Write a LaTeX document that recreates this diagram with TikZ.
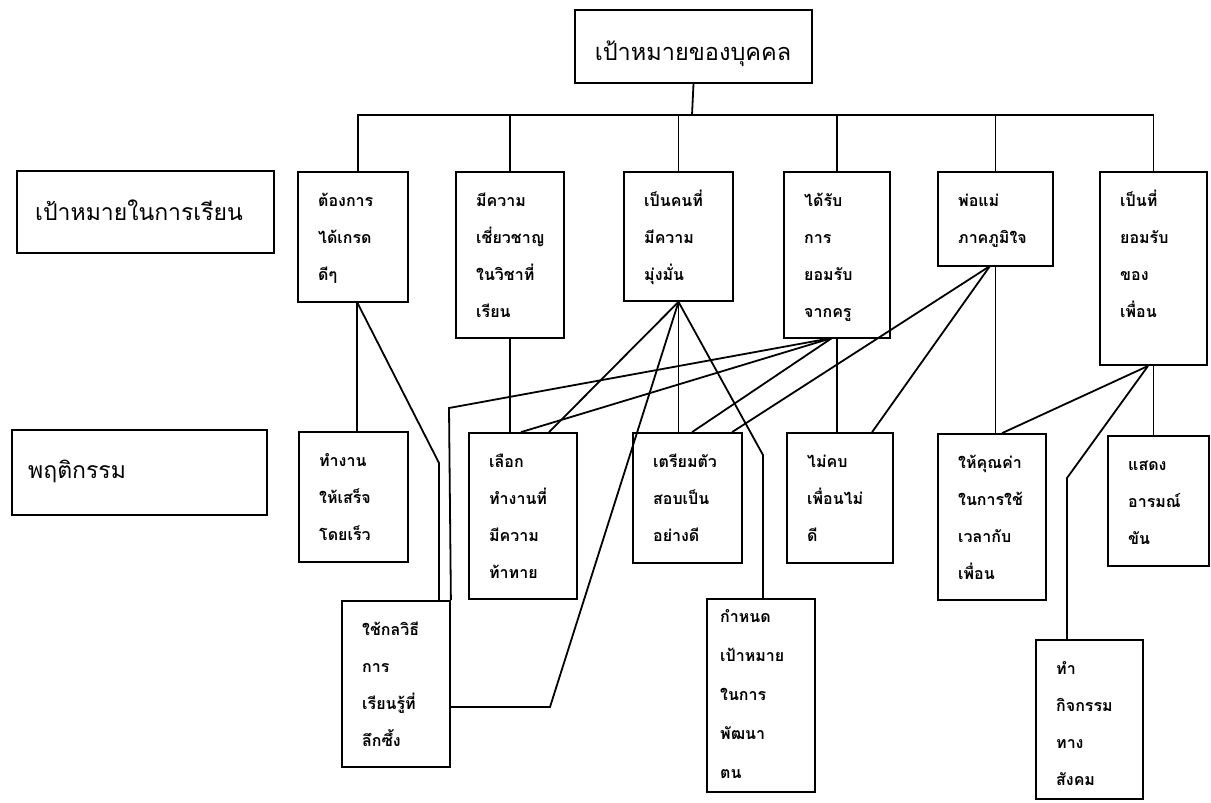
\documentclass[tikz,border=0pt]{standalone}
\usepackage{fontspec}
\newfontfamily\thaifont[Script=Thai]{Loma}
\usetikzlibrary{calc}
\newcommand{\mybox}[6]{%
  \node[bx, minimum width=#4, minimum height=#5] (#1) at (#2+#4/2, #3+#5/2) {};
  \node[txt] (#1t) at (#2+20, #3+21) {\parbox[t]{100pt}{\raggedright #6}};
}
\begin{document}
\begin{tikzpicture}[x=1pt,y=-1pt,
  bx/.style={draw, line width=1.8pt, rectangle, inner sep=0pt},
  txt/.style={anchor=north west, inner sep=0pt, text height=13pt,
    font=\thaifont\bfseries\fontsize{16}{37}\selectfont},
  ln/.style={line width=1.8pt}]
\path[use as bounding box, fill=white] (0,0) rectangle (1211,803);

% top box
\node[bx, minimum width=237, minimum height=73] (top) at (575+237/2, 10+73/2) {};
\node[anchor=base, inner sep=0pt, font=\thaifont\fontsize{23.5}{28}\selectfont] (topt) at (693,60) {เป้าหมายของบุคคล};

% side labels
\node[bx, minimum width=257, minimum height=82] (lg) at (17+257/2, 171+82/2) {};
\node[anchor=base west, inner sep=0pt, font=\thaifont\fontsize{23}{26}\selectfont] (lgt) at (35,220) {เป้าหมายในการเรียน};
\node[bx, minimum width=255, minimum height=85] (lb) at (12+255/2, 430+85/2) {};
\node[anchor=base west, inner sep=0pt, font=\thaifont\fontsize{23}{26}\selectfont] (lbt) at (28,478) {พฤติกรรม};

% goals
\mybox{g1}{298}{172}{110}{130}{ต้องการ\\ได้เกรด\\ดีๆ}
\mybox{g2}{456}{172}{108}{166}{มีความ\\เชี่ยวชาญ\\ในวิชาที่\\เรียน}
\mybox{g3}{624}{172}{109}{129}{เป็นคนที่\\มีความ\\มุ่งมั่น}
\mybox{g4}{784}{172}{106}{166}{ได้รับ\\การ\\ยอมรับ\\จากครู}
\mybox{g5}{938}{172}{115}{94}{พ่อแม่\\ภาคภูมิใจ}
\mybox{g6}{1100}{172}{107}{193}{เป็นที่\\ยอมรับ\\ของ\\เพื่อน}

% behaviours
\mybox{b1}{299}{432}{109}{130}{ทำงาน\\ให้เสร็จ\\โดยเร็ว}
\mybox{b2}{469}{433}{108}{166}{เลือก\\ทำงานที่\\มีความ\\ท้าทาย}
\mybox{b3}{633}{433}{109}{130}{เตรียมตัว\\สอบเป็น\\อย่างดี}
\mybox{b4}{787}{433}{106}{130}{ไม่คบ\\เพื่อนไม่\\ดี}
\mybox{b5}{938}{434}{108}{166}{ให้คุณค่า\\ในการใช้\\เวลากับ\\เพื่อน}
\mybox{b6}{1108}{436}{101}{130}{แสดง\\อารมณ์\\ขัน}
\mybox{l1}{342}{601}{108}{166}{ใช้กลวิธี\\การ\\เรียนรู้ที่\\ลึกซึ้ง}
\node[bx, minimum width=108, minimum height=193] (l2) at (707+108/2, 599+193/2) {};
\node[txt, font=\thaifont\bfseries\fontsize{16}{39}\selectfont] (l2t) at (720,609) {\parbox[t]{90pt}{\raggedright กำหนด\\เป้าหมาย\\ในการ\\พัฒนา\\ตน}};
\mybox{l3}{1036}{640}{107}{159}{ทำ\\กิจกรรม\\ทาง\\สังคม}

% tree from top box
\coordinate (bus) at (692,115);
\draw[ln] (top.south) -- (bus);
\draw[ln] ($(g1.north)+(5,0)$) |- (bus);
\foreach \g in {g2,g3,g4,g5,g6} \draw[ln] (\g.north) |- (bus);

% connector points
\coordinate (g1p) at (357,302);
\coordinate (g4p) at (832,338);
\coordinate (g5p) at (990,266);
\coordinate (g6p) at (1148,366);
\coordinate (k1) at (439,463);
\coordinate (k2) at (449,408);
\coordinate (k3) at (550,707);
\coordinate (k4) at (763,455);
\coordinate (k5) at (1067,478);

% G1
\draw[ln] (g1p) -- (g1p |- b1.north);
\draw[ln] (g1p) -- (k1) -- (k1 |- l1.north);
% G2
\draw[ln] (g2.south) -- (g2.south |- b2.north);
% G3
\draw[ln] (g3.south) -- ($(b2.north west)+(81,0)$);
\draw[ln] (g3.south) -- (k3) -- (l1.east |- k3);
\draw[ln] (g3.south) -- (g3.south |- b3.north);
\draw[ln] (g3.south) -- (k4) -- (k4 |- l2.north);
% G4
\draw[ln] (g4.south) -- (g4.south |- b4.north);
\draw[ln] (g4p) -- (k2) -- (l1.north east);
\draw[ln] (g4p) -- ($(b2.north west)+(53,0)$);
\draw[ln] (g4p) -- ($(b3.north west)+(60,0)$);
% G5
\draw[ln] (g5p) -- ($(b3.north west)+(100,0)$);
\draw[ln] (g5p) -- ($(b4.north west)+(86,0)$);
\draw[ln] (g5.south) -- (g5.south |- b5.north);
% G6
\draw[ln] (g6p) -- ($(b5.north west)+(65,0)$);
\draw[ln] (g6p) -- (k5) -- (k5 |- l3.north);
\draw[ln] (g6.south) -- (g6.south |- b6.north);
\end{tikzpicture}
\end{document}
